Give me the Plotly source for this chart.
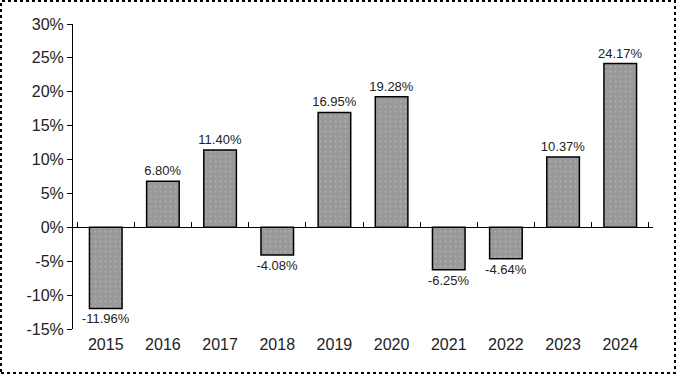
import plotly.graph_objects as go

years = ["2015", "2016", "2017", "2018", "2019", "2020", "2021", "2022", "2023", "2024"]
returns = [-11.96, 6.80, 11.40, -4.08, 16.95, 19.28, -6.25, -4.64, 10.37, 24.17]
labels = [f"{v:.2f}%" for v in returns]
y_ticks = [30, 25, 20, 15, 10, 5, 0, -5, -10, -15]
y_ticktext = [f"{v}%" for v in y_ticks]

W, H = 676, 374
ml, mr, mt, mb = 73, 23, 24, 45
pw, ph = W - ml - mr, H - mt - mb
ymin, ymax = -15, 30

fig = go.Figure()
fig.add_trace(go.Bar(
    x=years, y=returns, text=labels, textposition="outside", constraintext="none",
    textfont=dict(family="Liberation Sans, Arial", size=13, color="#222"),
    marker=dict(color="#999999", line=dict(color="#000", width=1.5),
                pattern=dict(shape=".", fgcolor="#c8c8c8", size=5, solidity=0.1)),
    width=0.57, cliponaxis=False, showlegend=False,
))
fig.add_trace(go.Scatter(x=years, y=[None]*len(years), xaxis="x2", showlegend=False, hoverinfo="skip"))

fig.update_layout(
    width=W, height=H, margin=dict(l=ml, r=mr, t=mt, b=mb),
    paper_bgcolor="white", plot_bgcolor="white",
    font=dict(family="Liberation Sans, Arial", color="#000"),
    xaxis=dict(type="category", showline=False, ticks="", showgrid=False,
               tickfont=dict(size=16, color="#222"), ticklabelstandoff=4),
    xaxis2=dict(type="category", overlaying="x", anchor="free", side="bottom",
                position=(0 - ymin) / (ymax - ymin), matches="x",
                showline=True, linecolor="#000", linewidth=1,
                ticks="inside", tickson="boundaries", ticklen=5, tickcolor="#000",
                showticklabels=False, showgrid=False),
    yaxis=dict(range=[ymin, ymax], tickvals=y_ticks, ticktext=y_ticktext,
               showline=True, linecolor="#000", linewidth=1,
               ticks="outside", ticklen=5, tickcolor="#000",
               showgrid=False, zeroline=False, tickfont=dict(size=16, color="#222")),
    bargap=0.43,
)
fig.add_shape(type="rect", xref="paper", yref="paper",
              x0=-(ml - 1) / pw, x1=1 + (mr - 1) / pw,
              y0=-(mb - 1) / ph, y1=1 + (mt - 1) / ph,
              line=dict(color="#000", width=2, dash="dot"))
fig.write_html("out.html", config={"displayModeBar": False},
               post_script="document.body.style.margin='0';")
